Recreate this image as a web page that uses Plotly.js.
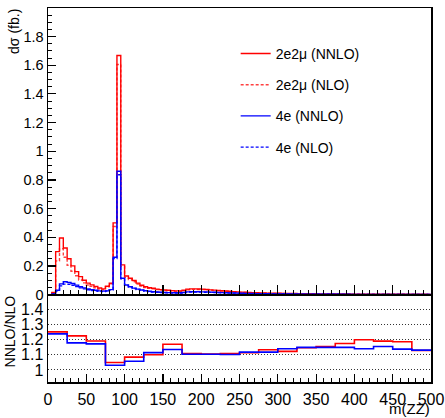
<!DOCTYPE html>
<html>
<head>
<meta charset="utf-8">
<script src="https://cdn.plot.ly/plotly-3.0.1.min.js"></script>
<style>html,body{margin:0;padding:0;background:#fff;}#chart{width:445px;height:418px;}</style>
</head>
<body>
<div id="chart"></div>
<script>
// m(ZZ) histogram, 5 GeV bins from 0 to 500
const binWidth = 5;
const nBins = 100;
// ratio histogram, 25 GeV bins from 0 to 500
const ratioBinWidth = 25;
const nRatioBins = 20;

const xTickLabels = ['0','50','100','150','200','250','300','350','400','450','500'];

const ee2mu_NNLO = [
  0, 0.015, 0.30, 0.395, 0.325,
  0.25, 0.20, 0.16, 0.125, 0.10,
  0.08, 0.068, 0.056, 0.046, 0.040,
  0.058, 0.08, 0.50, 1.668, 0.207,
  0.13, 0.114, 0.098, 0.08, 0.065,
  0.055, 0.048, 0.044, 0.038, 0.035,
  0.032, 0.030, 0.028, 0.026, 0.026,
  0.030, 0.038, 0.040, 0.040, 0.039,
  0.038, 0.036, 0.033, 0.031, 0.029,
  0.027, 0.025, 0.023, 0.021, 0.019,
  0.017, 0.016, 0.015, 0.014, 0.013,
  0.012, 0.011, 0.0105, 0.010, 0.0095,
  0.009, 0.0085, 0.008, 0.0076, 0.0072,
  0.0068, 0.0065, 0.0062, 0.0059, 0.0056,
  0.0053, 0.0051, 0.0049, 0.0047, 0.0045,
  0.0043, 0.0041, 0.0039, 0.0037, 0.0035,
  0.0034, 0.0033, 0.0032, 0.0031, 0.0030,
  0.0029, 0.0028, 0.0027, 0.0026, 0.0025,
  0.0024, 0.0023, 0.0022, 0.0021, 0.0021,
  0.0020, 0.0020, 0.0019, 0.0019, 0.0018
];
const ee2mu_NLO = [
  0, 0.012, 0.235, 0.32, 0.26,
  0.205, 0.163, 0.131, 0.102, 0.082,
  0.067, 0.057, 0.047, 0.039, 0.034,
  0.055, 0.076, 0.475, 1.605, 0.197,
  0.12, 0.105, 0.09, 0.074, 0.06,
  0.05, 0.044, 0.04, 0.0345, 0.032,
  0.0274, 0.0257, 0.024, 0.0222, 0.0222,
  0.027, 0.0343, 0.0361, 0.0361, 0.0352,
  0.0344, 0.0326, 0.0299, 0.0281, 0.0262,
  0.0244, 0.0226, 0.0208, 0.019, 0.0172,
  0.0153, 0.0144, 0.0135, 0.0126, 0.0117,
  0.0106, 0.0097, 0.0093, 0.0088, 0.0084,
  0.008, 0.0076, 0.0071, 0.0068, 0.0064,
  0.0059, 0.0057, 0.0054, 0.0051, 0.0049,
  0.0046, 0.0044, 0.0042, 0.0041, 0.0039,
  0.0037, 0.0035, 0.0033, 0.0032, 0.0030,
  0.0028, 0.0028, 0.0027, 0.0026, 0.0025,
  0.0024, 0.0024, 0.0023, 0.0022, 0.0021,
  0.0020, 0.0019, 0.0019, 0.0018, 0.0018,
  0.0018, 0.0018, 0.0017, 0.0017, 0.0016
];
const e4_NNLO = [
  0, 0.005, 0.03, 0.075, 0.09,
  0.085, 0.077, 0.066, 0.055, 0.047,
  0.040, 0.034, 0.030, 0.026, 0.024,
  0.026, 0.035, 0.26, 0.86, 0.114,
  0.067, 0.055, 0.045, 0.038, 0.032,
  0.027, 0.023, 0.020, 0.018, 0.016,
  0.015, 0.014, 0.013, 0.013, 0.013,
  0.015, 0.019, 0.020, 0.020, 0.020,
  0.019, 0.018, 0.017, 0.016, 0.015,
  0.014, 0.013, 0.012, 0.011, 0.010,
  0.0092, 0.0085, 0.0079, 0.0073, 0.0068,
  0.0063, 0.0059, 0.0055, 0.0052, 0.0049,
  0.0046, 0.0043, 0.0041, 0.0039, 0.0037,
  0.0035, 0.0033, 0.0031, 0.0030, 0.0028,
  0.0027, 0.0026, 0.0025, 0.0024, 0.0023,
  0.0022, 0.0021, 0.0020, 0.0019, 0.0018,
  0.0017, 0.0017, 0.0016, 0.0016, 0.0015,
  0.0015, 0.0014, 0.0014, 0.0013, 0.0013,
  0.0012, 0.0012, 0.0011, 0.0011, 0.0011,
  0.0010, 0.0010, 0.0010, 0.0009, 0.0009
];
const e4_NLO = [
  0, 0.004, 0.024, 0.061, 0.073,
  0.072, 0.065, 0.056, 0.047, 0.040,
  0.034, 0.029, 0.0256, 0.0222, 0.0205,
  0.025, 0.034, 0.252, 0.836, 0.110,
  0.063, 0.052, 0.0426, 0.036, 0.0303,
  0.0242, 0.0206, 0.018, 0.0162, 0.0144,
  0.0132, 0.0123, 0.0115, 0.0115, 0.0115,
  0.0136, 0.0172, 0.0181, 0.0181, 0.0181,
  0.0172, 0.0163, 0.0154, 0.0145, 0.0136,
  0.0127, 0.0118, 0.0109, 0.010, 0.0091,
  0.0082, 0.0076, 0.0071, 0.0065, 0.0061,
  0.0056, 0.0053, 0.0049, 0.0047, 0.0044,
  0.0040, 0.0038, 0.0036, 0.0034, 0.0032,
  0.0030, 0.0029, 0.0027, 0.0026, 0.0024,
  0.0024, 0.0023, 0.0022, 0.0021, 0.0020,
  0.0019, 0.0018, 0.0017, 0.0017, 0.0016,
  0.0015, 0.0015, 0.0014, 0.0014, 0.0013,
  0.0013, 0.0012, 0.0012, 0.0011, 0.0011,
  0.0011, 0.0011, 0.0010, 0.0010, 0.0010,
  0.0009, 0.0009, 0.0009, 0.0008, 0.0008
];
const ratio_ee2mu = [1.25, 1.224, 1.19, 1.049, 1.084, 1.10, 1.169, 1.108, 1.105, 1.107,
                     1.113, 1.133, 1.122, 1.146, 1.154, 1.174, 1.198, 1.189, 1.185, 1.128];
const ratio_e4    = [1.237, 1.178, 1.171, 1.031, 1.057, 1.114, 1.134, 1.103, 1.103, 1.102,
                     1.117, 1.117, 1.139, 1.148, 1.148, 1.148, 1.139, 1.154, 1.137, 1.13];

function edges(n, w) { const e = []; for (let i = 0; i <= n; i++) e.push(i * w); return e; }
function stepY(v) { return v.concat([v[v.length - 1]]); }

const xe = edges(nBins, binWidth);
const xr = edges(nRatioBins, ratioBinWidth);

const FONT = '"Liberation Sans", Arial, Helvetica, sans-serif';
const RED = '#ff0000', BLUE = '#0000ff';

function hist(name, vals, color, dash, grp) {
  return {type: 'scatter', mode: 'lines', x: xe, y: stepY(vals), name: name,
    legendgroup: grp, line: {shape: 'hv', color: color, width: 1.4, dash: dash},
    xaxis: 'x', yaxis: 'y', hoverinfo: 'skip'};
}
function ratio(vals, color) {
  return {type: 'scatter', mode: 'lines', x: xr, y: stepY(vals), showlegend: false,
    line: {shape: 'hv', color: color, width: 1.6}, xaxis: 'x2', yaxis: 'y2', hoverinfo: 'skip'};
}

const data = [
  hist('2e2\u03bc (NNLO)', ee2mu_NNLO, RED, 'solid', 'a'),
  hist('2e2\u03bc (NLO)', ee2mu_NLO, 'rgba(255,0,0,0.75)', '3px,2px', 'b'),
  hist('4e (NNLO)', e4_NNLO, BLUE, 'solid', 'c'),
  hist('4e (NLO)', e4_NLO, BLUE, '3px,2px', 'd'),
  ratio(ratio_ee2mu, RED),
  ratio(ratio_e4, BLUE)
];

const xtickvals = xTickLabels.map(Number);

const layout = {
  width: 445, height: 418,
  margin: {l: 48, r: 14, t: 8, b: 36},
  paper_bgcolor: '#fff', plot_bgcolor: '#fff',
  font: {family: FONT, size: 14, color: '#000'},
  showlegend: true,
  legend: {x: 0.49, y: 0.92, xanchor: 'left', yanchor: 'top', bgcolor: 'rgba(0,0,0,0)',
    font: {family: FONT, size: 14, color: '#000'}, traceorder: 'grouped', tracegroupgap: 10},
  xaxis: {domain: [0, 1], range: [0, 500], anchor: 'y', showticklabels: false,
    ticks: 'inside', tickmode: 'array', tickvals: xtickvals, ticklen: 10, tickwidth: 1.2, tickcolor: '#000',
    minor: {dtick: 10, ticks: 'inside', ticklen: 5, tickwidth: 1, tickcolor: '#000'},
    showline: true, mirror: true, linecolor: '#000', linewidth: 1.5, showgrid: false, zeroline: false},
  yaxis: {domain: [0.2337, 1], range: [0, 1.999], anchor: 'x', dtick: 0.2, tick0: 0,
    ticks: 'inside', ticklen: 8, tickwidth: 1.2, tickcolor: '#000', tickfont: {size: 14.5},
    minor: {dtick: 0.05, ticks: 'inside', ticklen: 4, tickwidth: 1, tickcolor: '#000'},
    showline: true, mirror: true, linecolor: '#000', linewidth: 1.5, showgrid: false, zeroline: false},
  xaxis2: {domain: [0, 1], range: [0, 500], anchor: 'y2', tickmode: 'array', tickvals: xtickvals, ticktext: xTickLabels,
    ticks: 'inside', ticklen: 8, tickwidth: 1.2, tickcolor: '#000', ticklabelstandoff: 2, tickfont: {size: 16},
    ticklabeloverflow: 'allow',
    minor: {dtick: 10, ticks: 'inside', ticklen: 4, tickwidth: 1, tickcolor: '#000'},
    showline: true, mirror: true, linecolor: '#000', linewidth: 1.5, showgrid: false, zeroline: false},
  yaxis2: {domain: [0, 0.2326], range: [0.921, 1.492], anchor: 'x2', dtick: 0.1, tick0: 1,
    ticks: '', tickfont: {size: 16}, showline: true, mirror: true, linecolor: '#000', linewidth: 1.5,
    showgrid: true, gridcolor: '#333', gridwidth: 1, griddash: '1px,2px', zeroline: false},
  annotations: [
    {text: 'd\u03c3 (fb.)', xref: 'paper', yref: 'paper', x: -0.089, y: 0.9385, textangle: -90,
      showarrow: false, xanchor: 'center', yanchor: 'middle', font: {family: FONT, size: 14}},
    {text: 'NNLO/NLO', xref: 'paper', yref: 'paper', x: -0.0985, y: 0.136, textangle: -90,
      showarrow: false, xanchor: 'center', yanchor: 'middle', font: {family: FONT, size: 14}},
    {text: 'm(ZZ)', xref: 'paper', yref: 'paper', x: 1.0, y: -0.0955, borderpad: 0,
      showarrow: false, xanchor: 'right', yanchor: 'bottom', font: {family: FONT, size: 15}}
  ]
};

Plotly.newPlot('chart', data, layout, {staticPlot: true, displayModeBar: false});
</script>
</body>
</html>
